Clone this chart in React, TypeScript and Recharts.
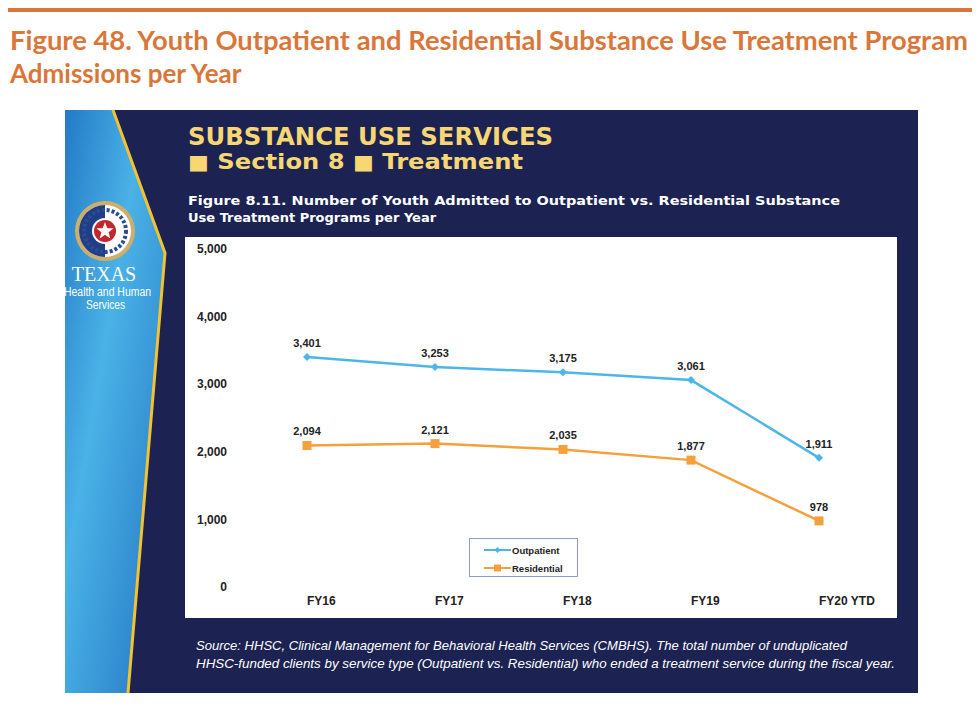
import React from 'react';
import { LineChart, Line, XAxis, YAxis, LabelList, Legend } from 'recharts';

const categories = ['FY16', 'FY17', 'FY18', 'FY19', 'FY20 YTD'];
const outpatient = [3401, 3253, 3175, 3061, 1911];
const residential = [2094, 2121, 2035, 1877, 978];
const yTicks = [0, 1000, 2000, 3000, 4000, 5000];

const data = categories.map((name, i) => ({
  name,
  Outpatient: outpatient[i],
  Residential: residential[i],
}));

const BLUE = '#4DB6E8';
const ORANGE = '#F5A03C';
const NAVY = '#1C2352';
const FONT = '"Liberation Sans", Arial, sans-serif';

const fmt = (v: any) => Number(v).toLocaleString('en-US');

const Diamond = (props: any) => {
  const { cx, cy } = props;
  if (cx == null || cy == null) return null;
  const r = 4;
  return (
    <polygon
      points={`${cx},${cy - r} ${cx + r},${cy} ${cx},${cy + r} ${cx - r},${cy}`}
      fill={BLUE}
    />
  );
};

const Square = (props: any) => {
  const { cx, cy } = props;
  if (cx == null || cy == null) return null;
  const s = 9;
  return <rect x={cx - s / 2} y={cy - s / 2} width={s} height={s} fill={ORANGE} />;
};

const XTick = (props: any) => {
  const { x, y, payload } = props;
  return (
    <text x={x} y={y} dy={10} textAnchor="start" fill="#222" fontSize={12} fontWeight={700} fontFamily={FONT}>
      {payload.value}
    </text>
  );
};

const LegendContent = (props: any) => {
  const payload = props.payload || [];
  return (
    <div
      style={{
        border: '1px solid #8C9DC6',
        width: 109,
        height: 39,
        boxSizing: 'border-box',
        background: '#fff',
        paddingTop: 3,
      }}
    >
      {payload.map((p: any) => (
        <div key={p.value} style={{ display: 'flex', alignItems: 'center', height: 16, marginBottom: 2 }}>
          <svg width={42} height={10} style={{ display: 'block' }}>
            <line x1={14} y1={5} x2={41} y2={5} stroke={p.color} strokeWidth={2} />
            {p.value === 'Outpatient' ? (
              <polygon points="27.5,2 30.5,5 27.5,8 24.5,5" fill={p.color} />
            ) : (
              <rect x={24} y={1.5} width={7} height={7} fill={p.color} />
            )}
          </svg>
          <span style={{ fontFamily: FONT, fontSize: 9.5, fontWeight: 700, color: '#222' }}>{p.value}</span>
        </div>
      ))}
    </div>
  );
};

const Background = () => (
  <svg width={980} height={720} style={{ position: 'absolute', left: 0, top: 0 }}>
    <defs>
      <linearGradient id="panel" x1="0" y1="0" x2="1" y2="1">
        <stop offset="0" stopColor="#2479C6" />
        <stop offset="0.4" stopColor="#4AB2E6" />
        <stop offset="1" stopColor="#2374C2" />
      </linearGradient>
      <clipPath id="slide">
        <rect x={65} y={110} width={853} height={583} />
      </clipPath>
    </defs>
    <rect x={0} y={0} width={980} height={720} fill="#fff" />
    <rect x={8} y={8} width={964} height={4} fill="#D9773A" />
    <text x={10} y={50} fontFamily="Lato, sans-serif" fontWeight={700} fontSize={26} fill="#D9773A" textLength={958} lengthAdjust="spacingAndGlyphs">
      Figure 48. Youth Outpatient and Residential Substance Use Treatment Program
    </text>
    <text x={10} y={83} fontFamily="Lato, sans-serif" fontWeight={700} fontSize={26} fill="#D9773A">
      Admissions per Year
    </text>

    <rect x={65} y={110} width={853} height={583} fill={NAVY} />
    <polygon points="65,110 113,110 165,253 128,693 65,693" fill="url(#panel)" />
    <polyline points="113,110 165,253 128,693" fill="none" stroke="#F1C232" strokeWidth={3} />

    {/* seal */}
    <circle cx={105} cy={231} r={30} fill="#CDAE6A" />
    <circle cx={105} cy={231} r={26} fill="#fff" />
    <path d="M105,205 A26,26 0 0 0 105,257 Z" fill="#1F3E86" />
    <circle cx={105} cy={231} r={21} fill="none" stroke="#2B4B94" strokeWidth={4} strokeDasharray="3 2" />
    <circle cx={105} cy={231} r={13} fill="#fff" />
    <circle cx={105} cy={231} r={11} fill="#C1272D" />
    <polygon
      points="105,222 107.3,228.2 113.6,228.2 108.6,232.2 110.3,238.4 105,234.8 99.7,238.4 101.4,232.2 96.4,228.2 102.7,228.2"
      fill="#fff"
    />
    <g clipPath="url(#slide)">
      <text x={104} y={281} textAnchor="middle" fontFamily='"Liberation Serif", "DejaVu Serif", serif' fontSize={20} fill="#fff">
        TEXAS
      </text>
      <text x={64} y={296} fontFamily='"Liberation Sans", sans-serif' fontSize={12} fill="#fff" textLength={87} lengthAdjust="spacingAndGlyphs">
        Health and Human
      </text>
      <text x={86} y={309} fontFamily='"Liberation Sans", sans-serif' fontSize={12} fill="#fff" textLength={39} lengthAdjust="spacingAndGlyphs">
        Services
      </text>
    </g>

    <text x={188} y={145} fontFamily='"DejaVu Sans", Verdana, sans-serif' fontWeight={700} fontSize={24} fill="#F6D774" textLength={365} lengthAdjust="spacingAndGlyphs">
      SUBSTANCE USE SERVICES
    </text>
    <text x={188} y={169} fontFamily='"DejaVu Sans", Verdana, sans-serif' fontWeight={700} fontSize={22} fill="#F6D774" textLength={335} lengthAdjust="spacingAndGlyphs">
      <tspan fontSize={20}>■</tspan> Section 8 <tspan fontSize={20}>■</tspan> Treatment
    </text>
    <text x={188} y={205} fontFamily='"DejaVu Sans", Verdana, sans-serif' fontWeight={700} fontSize={13} fill="#fff" textLength={652} lengthAdjust="spacingAndGlyphs">
      Figure 8.11. Number of Youth Admitted to Outpatient vs. Residential Substance
    </text>
    <text x={188} y={222} fontFamily='"DejaVu Sans", Verdana, sans-serif' fontWeight={700} fontSize={13} fill="#fff">
      Use Treatment Programs per Year
    </text>

    <text x={196} y={650} fontFamily='"Liberation Sans", sans-serif' fontStyle="italic" fontSize={13.5} fill="#fff" textLength={651} lengthAdjust="spacingAndGlyphs">
      Source: HHSC, Clinical Management for Behavioral Health Services (CMBHS). The total number of unduplicated
    </text>
    <text x={196} y={668} fontFamily='"Liberation Sans", sans-serif' fontStyle="italic" fontSize={13.5} fill="#fff" textLength={699} lengthAdjust="spacingAndGlyphs">
      HHSC-funded clients by service type (Outpatient vs. Residential) who ended a treatment service during the fiscal year.
    </text>
  </svg>
);

export default function App() {
  return (
    <div style={{ position: 'absolute', left: 0, top: 0, width: 980, height: 720, overflow: 'hidden' }}>
      <Background />
      <div style={{ position: 'absolute', left: 185, top: 237, width: 712, height: 381, background: '#fff' }}>
        <LineChart width={712} height={381} data={data} margin={{ top: 12, right: 20, bottom: 0, left: 0 }}>
          <XAxis
            dataKey="name"
            height={31}
            axisLine={false}
            tickLine={false}
            interval={0}
            padding={{ left: 72, right: 58 }}
            tick={<XTick />}
          />
          <YAxis
            width={50}
            domain={[0, 5000]}
            ticks={yTicks}
            interval={0}
            axisLine={false}
            tickLine={false}
            tickFormatter={fmt}
            tick={{ fill: '#222', fontSize: 12, fontWeight: 700, fontFamily: FONT }}
          />
          <Legend
            layout="vertical"
            align="center"
            verticalAlign="middle"
            content={<LegendContent />}
            wrapperStyle={{ position: 'absolute', left: 284, top: 301, width: 109, height: 39 }}
          />
          <Line
            type="linear"
            dataKey="Outpatient"
            stroke={BLUE}
            strokeWidth={2.5}
            dot={<Diamond />}
            activeDot={false}
            isAnimationActive={false}
          >
            <LabelList dataKey="Outpatient" position="top" offset={10} formatter={fmt} fill="#222" fontSize={11} fontWeight={700} fontFamily={FONT} />
          </Line>
          <Line
            type="linear"
            dataKey="Residential"
            stroke={ORANGE}
            strokeWidth={2.5}
            dot={<Square />}
            activeDot={false}
            isAnimationActive={false}
          >
            <LabelList dataKey="Residential" position="top" offset={10} formatter={fmt} fill="#222" fontSize={11} fontWeight={700} fontFamily={FONT} />
          </Line>
        </LineChart>
      </div>
    </div>
  );
}
